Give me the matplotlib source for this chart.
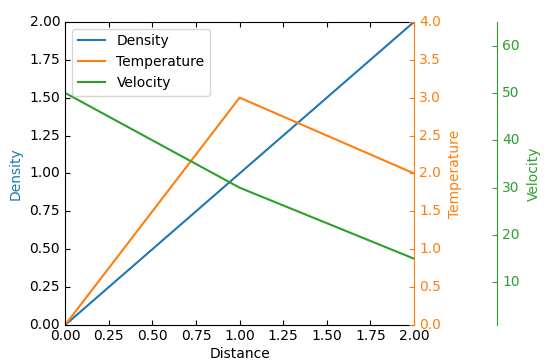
import matplotlib
matplotlib.use("Agg")
import matplotlib.pyplot as plt
from mpl_toolkits.axes_grid1 import host_subplot
import mpl_toolkits.axisartist as AA

# DATA
distance = [0, 1, 2]
density = [0, 1, 2]
temperature = [0, 3, 2]
velocity = [50, 30, 15]

fig = plt.figure(figsize=(5.47, 3.64), dpi=100)
host = host_subplot(111, axes_class=AA.Axes)
plt.subplots_adjust(left=0.119, right=0.757, bottom=0.107, top=0.940)

par1 = host.twinx()
par2 = host.twinx()
par2.axis["right"] = par2.new_fixed_axis(loc="right", offset=(60, 0))
par1.axis["right"].toggle(all=True)
par2.axis["right"].toggle(all=True)

p1, = host.plot(distance, density, label="Density")
p2, = par1.plot(distance, temperature, label="Temperature")
p3, = par2.plot(distance, velocity, label="Velocity")

host.set_xlim(0, 2)
host.set_ylim(0, 2)
par1.set_ylim(0, 4)
par2.set_ylim(1, 65)

host.set_xlabel("Distance")
host.set_ylabel("Density")
par1.set_ylabel("Temperature")
par2.set_ylabel("Velocity")

host.legend(loc="upper left")

host.axis["left"].label.set_color(p1.get_color())
for ax, p in [(par1, p2), (par2, p3)]:
    a = ax.axis["right"]
    a.label.set_color(p.get_color())
    a.major_ticklabels.set_color(p.get_color())
    a.major_ticks.set_color(p.get_color())
    a.line.set_color(p.get_color())

fig.savefig("out.png", dpi=100)
